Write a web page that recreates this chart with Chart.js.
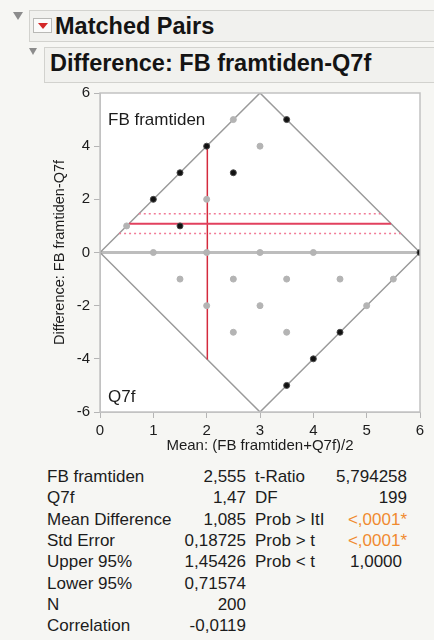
<!DOCTYPE html>
<html>
<head>
<meta charset="utf-8">
<script src="https://cdn.jsdelivr.net/npm/chart.js@4"></script>
<style>
body { margin:0; background:#f6f6f3; font-family:'Liberation Sans', Arial, sans-serif; color:#1c1c1c; }
#wrap { position:relative; width:434px; height:640px; overflow:hidden; }
.box { position:absolute; background:#f1f1ee; border:1px solid #d2d2ce; box-sizing:border-box; }
.hd { position:absolute; font-weight:bold; white-space:nowrap; color:#141414; }
.tri { position:absolute; width:0; height:0; border-left:5px solid transparent; border-right:5px solid transparent; border-top:8px solid #8c8c8c; }
#redbtn { position:absolute; left:33px; top:18px; width:19px; height:15px; background:#fbfbfa; border:1px solid #b9b9b6; box-sizing:border-box; }
#redbtn:after { content:''; position:absolute; left:4px; top:4px; border-left:5px solid transparent; border-right:5px solid transparent; border-top:6px solid #d42828; }
#chart { position:absolute; left:0; top:80px; }
.cell { position:absolute; font-size:17px; line-height:20px; white-space:nowrap; }
.r { text-align:right; }
.org { color:#f08a30; }
</style>
</head>
<body>
<div id="wrap">
  <div class="tri" style="left:13px;top:12px;"></div>
  <div class="box" style="left:29px;top:10px;width:420px;height:32px;"></div>
  <div id="redbtn"></div>
  <div class="hd" style="left:55px;top:11px;font-size:23.5px;line-height:31px;">Matched Pairs</div>

  <div class="tri" style="left:29px;top:48px;border-left-width:4px;border-right-width:4px;border-top-width:7px;"></div>
  <div class="box" style="left:44px;top:47px;width:420px;height:36px;"></div>
  <div class="hd" style="left:50px;top:48px;font-size:23.5px;line-height:30px;">Difference: FB framtiden-Q7f</div>

  <canvas id="chart" width="434" height="375"></canvas>
  <div id="stats"></div>
</div>
<script>
// valores
const fbMean = 2.555;
const q7Mean = 1.47;
const meanDiff = 1.085;
const upper95 = 1.45426;
const lower95 = 0.71574;

const xRange = [0, 6];
const yRange = [-6, 6];
const xStep = 1;
const yStep = 2;

// puntos (media, diferencia)
const darkPts = [[1,2],[1.5,3],[2,4],[2.5,3],[1.5,1],[3.5,5],[3.5,-5],[4,-4],[4.5,-3],[6,0]];
const lightPts = [[0.5,1],[1,0],[2,0],[2,2],[2.5,5],[3,4],[3,0],[4,0],[1.5,-1],[2.5,-1],[3.5,-1],[4.5,-1],[5.5,-1],[2,-2],[3,-2],[5,-2],[2.5,-3],[3.5,-3]];

// tabla de resultados
const leftLabels = ['FB framtiden','Q7f','Mean Difference','Std Error','Upper 95%','Lower 95%','N','Correlation'];
const leftValues = ['2,555','1,47','1,085','0,18725','1,45426','0,71574','200','-0,0119'];
const rightLabels = ['t-Ratio','DF','Prob > |t|','Prob > t','Prob < t'];
const rightValues = ['5,794258','199','<,0001*','<,0001*','1,0000'];

const pt = a => a.map(p => ({ x: p[0], y: p[1] }));
const mid = (xRange[0] + xRange[1]) / 2;
// límites del rombo para una diferencia d
const hLine = d => [{ x: xRange[0] + Math.abs(d) / 2, y: d }, { x: xRange[1] - Math.abs(d) / 2, y: d }];
const meanOfMeans = (fbMean + q7Mean) / 2;
const halfW = Math.min(meanOfMeans - xRange[0], xRange[1] - meanOfMeans) * 2;

const frame = {
  id: 'frame',
  beforeDraw(c) {
    const a = c.chartArea, ctx = c.ctx;
    ctx.save(); ctx.fillStyle = '#fff'; ctx.fillRect(a.left, a.top, a.width, a.height); ctx.restore();
  },
  afterDraw(c) {
    const a = c.chartArea, ctx = c.ctx;
    ctx.save();
    ctx.strokeStyle = '#c2c2c2'; ctx.lineWidth = 1.5;
    ctx.strokeRect(a.left, a.top, a.width, a.height);
    ctx.fillStyle = '#1c1c1c';
    ctx.font = '17px "Liberation Sans", Arial, sans-serif';
    ctx.textBaseline = 'middle';
    ctx.fillText('FB framtiden', a.left + 8, a.top + 27);
    ctx.fillText('Q7f', a.left + 8, a.bottom - 15);
    ctx.restore();
  }
};

new Chart(document.getElementById('chart'), {
  type: 'scatter',
  data: { datasets: [
    { data: pt(darkPts), pointRadius: 3, pointBackgroundColor: '#111', pointBorderColor: '#4a4a4a', pointBorderWidth: 1, order: 0 },
    { data: pt(lightPts), pointRadius: 3, pointBackgroundColor: '#b4b4b4', pointBorderColor: '#b4b4b4', order: 1 },
    { data: hLine(meanDiff), showLine: true, borderColor: '#e2405e', borderWidth: 2, pointRadius: 0, order: 2 },
    { data: hLine(upper95), showLine: true, borderColor: '#f27b97', borderWidth: 1.5, borderDash: [2, 3], pointRadius: 0, order: 3 },
    { data: hLine(lower95), showLine: true, borderColor: '#f27b97', borderWidth: 1.5, borderDash: [2, 3], pointRadius: 0, order: 3 },
    { data: [{ x: meanOfMeans, y: -halfW }, { x: meanOfMeans, y: halfW }], showLine: true, borderColor: '#d42a3c', borderWidth: 1.5, pointRadius: 0, order: 4 },
    { data: [{ x: xRange[0], y: 0 }, { x: mid, y: yRange[1] }, { x: xRange[1], y: 0 }, { x: mid, y: yRange[0] }, { x: xRange[0], y: 0 }],
      showLine: true, borderColor: '#9a9a9a', borderWidth: 1.5, pointRadius: 0, order: 5 },
    { data: [{ x: xRange[0], y: 0 }, { x: xRange[1], y: 0 }], showLine: true, borderColor: '#bdbdbd', borderWidth: 3, pointRadius: 0, order: 6 }
  ]},
  options: {
    responsive: false, animation: false, devicePixelRatio: 1,
    layout: { padding: { left: 51, top: 12, right: 14, bottom: 0 } },
    plugins: { legend: { display: false }, tooltip: { enabled: false } },
    elements: { line: { tension: 0 } },
    scales: {
      x: {
        type: 'linear', min: xRange[0], max: xRange[1],
        ticks: { stepSize: xStep, color: '#1c1c1c', font: { size: 15, family: 'Liberation Sans' }, padding: 4, maxRotation: 0 },
        grid: { drawOnChartArea: false, tickLength: 6, color: '#b5b5b5' },
        border: { color: '#c2c2c2' },
        title: { display: true, text: 'Mean: (FB framtiden+Q7f)/2', color: '#1c1c1c', font: { size: 15, family: 'Liberation Sans' }, padding: 0 },
        afterFit(s) { s.height = 43; }
      },
      y: {
        min: yRange[0], max: yRange[1],
        ticks: { stepSize: yStep, color: '#1c1c1c', font: { size: 15, family: 'Liberation Sans' }, padding: 4 },
        grid: { drawOnChartArea: false, tickLength: 6, color: '#b5b5b5' },
        border: { color: '#c2c2c2' },
        title: { display: true, text: 'Difference: FB framtiden-Q7f', color: '#1c1c1c', font: { size: 14.5, family: 'Liberation Sans' }, padding: 0 },
        afterFit(s) { s.width = 49; }
      }
    }
  },
  plugins: [frame]
});

// tabla
const st = document.getElementById('stats');
const rowTop = i => 467 + i * 21.3;
leftLabels.forEach((t, i) => {
  st.insertAdjacentHTML('beforeend', `<div class="cell" style="left:47px;top:${rowTop(i)}px">${t}</div>`);
  st.insertAdjacentHTML('beforeend', `<div class="cell r" style="right:${434 - 246}px;top:${rowTop(i)}px">${leftValues[i]}</div>`);
});
rightLabels.forEach((t, i) => {
  const txt = t.replace('<', '&lt;').replace('>', '&gt;').replace('|t|', 'ItI');
  const v = rightValues[i].replace('<', '&lt;');
  const cls = v.includes('*') ? 'cell r org' : 'cell r';
  const rr = i === 4 ? 434 - 402 : 434 - 407;
  st.insertAdjacentHTML('beforeend', `<div class="cell" style="left:255px;top:${rowTop(i)}px">${txt}</div>`);
  st.insertAdjacentHTML('beforeend', `<div class="${cls}" style="right:${rr}px;top:${rowTop(i)}px">${v}</div>`);
});
</script>
</body>
</html>
